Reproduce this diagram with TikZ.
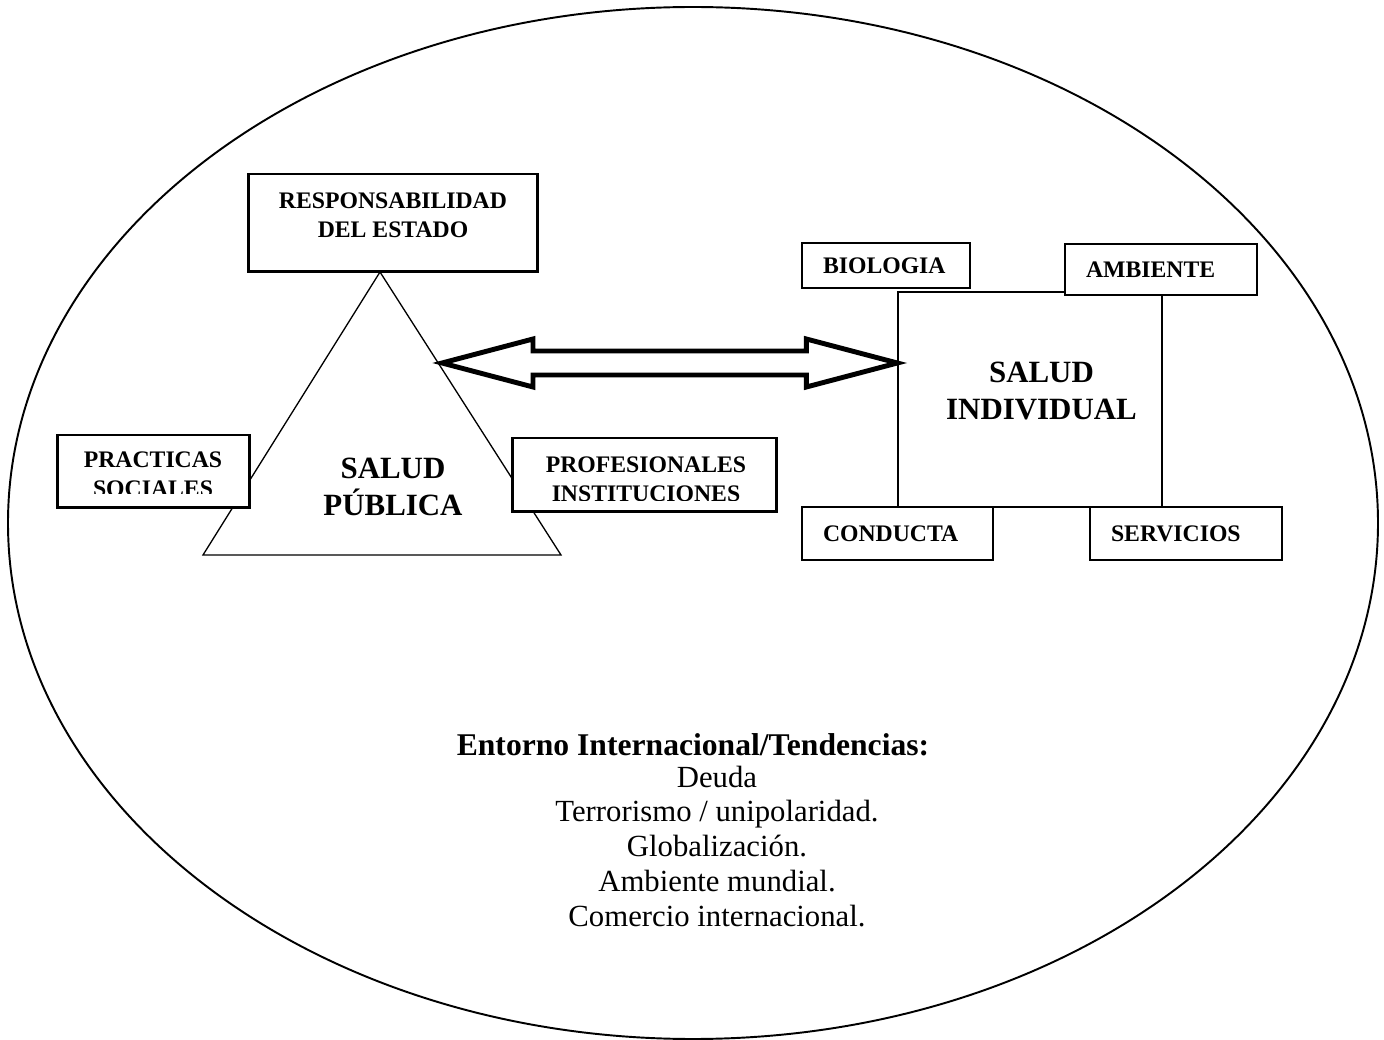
\documentclass[tikz,border=0pt]{standalone}
\usepackage{fontspec}
\setmainfont{Liberation Serif}
\usetikzlibrary{calc}
\tikzset{
  frame/.style={draw=black, line width=1.1pt},
  thin/.style={draw=black, line width=0.75pt},
  heavy/.style={draw=black, fill=white, line width=1.7pt, inner sep=0pt},
  light/.style={draw=black, fill=white, line width=0.75pt, inner ysep=0pt, inner xsep=0.42cm,
                align=left, font=\fontsize{13.5}{16.5}\selectfont\bfseries},
  blockarr/.style={draw=black, line width=2.8pt, line join=miter},
  small/.style={font=\fontsize{13.5}{16.5}\selectfont\bfseries, align=center, inner sep=0pt},
  big/.style={font=\fontsize{17.6}{21}\selectfont\bfseries, align=center, inner sep=0pt},
  plain/.style={font=\fontsize{17.5}{19.9}\selectfont, align=center, inner sep=0pt},
}

\begin{document}
\begin{tikzpicture}[x=0.02cm, y=-0.02cm]
\useasboundingbox (0,0) rectangle (1384,1040);

% the world around
\draw[frame] (693,523) ellipse [x radius=685, y radius=516];

% public health: triangle
\draw[thin] (380,272) -- (203,555) -- (561,555) -- cycle;
\node[big] (publica) at (393,486.5) {SALUD\\PÚBLICA};

% individual health: square
\node[thin, minimum width=5.28cm, minimum height=4.3cm, inner sep=0pt] (indiv) at (1030,399.5) {};
\node[big] (indivlbl) at (1041.5,391) {SALUD\\INDIVIDUAL};

% the two-way arrow between them
\coordinate (lt) at (442,363);
\coordinate (rt) at (indiv.west |- lt);
\draw[blockarr] (lt) -- ++(91,-24) -- ++(0,12) -- ($(rt)+(-91,-12)$) -- ++(0,-12) -- (rt)
  -- ++(-91,24) -- ++(0,-12) -- ($(lt)+(91,12)$) -- ++(0,12) -- cycle;

% corners of the triangle
\node[heavy, minimum width=5.8cm, minimum height=1.96cm] (estado) at (393,223) {};
\node[small] (estadolbl) at (393,215) {RESPONSABILIDAD\\DEL ESTADO};
\node[heavy, minimum width=3.86cm, minimum height=1.46cm] (practicas) at (153.5,471.5) {};
\node[heavy, minimum width=5.3cm, minimum height=1.48cm] (profes) at (644.5,475) {};
% the lower lines are cut by their boxes
\begin{scope}
  \clip (57,435) rectangle (250,494);
  \node[small] (praclbl) at (153,474) {PRACTICAS\\SOCIALES};
\end{scope}
\begin{scope}
  \clip (512,438) rectangle (777,501);
  \node[small] (profeslbl) at (646,479.5) {PROFESIONALES\\INSTITUCIONES};
\end{scope}

% corners of the square
\node[light, text width=2.52cm, minimum height=0.9cm] (biolog) at (886,265.5) {BIOLOGIA};
\node[light, text width=3.0cm, minimum height=1.02cm] (ambiente) at (1161,269.5) {AMBIENTE};
\node[light, text width=2.98cm, minimum height=1.06cm] (conducta) at (897.5,533.5) {CONDUCTA};
\node[light, text width=3.0cm, minimum height=1.06cm] (servicios) at (1186,533.5) {SERVICIOS};

% trends
\node[plain, font=\fontsize{18}{19.9}\selectfont\bfseries, anchor=base] (entorno) at (693,755)
  {Entorno Internacional/Tendencias:};
\node[plain] (tendencias) at (717,846.5) {Deuda\\Terrorismo / unipolaridad.\\Globalización.\\Ambiente mundial.\\Comercio internacional.};
\end{tikzpicture}
\end{document}
